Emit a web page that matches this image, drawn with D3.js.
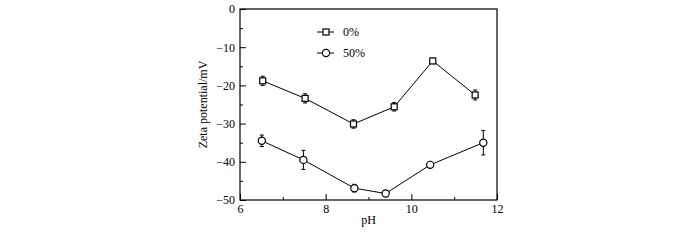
<!DOCTYPE html>
<html>
<head>
<meta charset="utf-8">
<script src="https://cdn.jsdelivr.net/npm/d3@7/dist/d3.min.js"></script>
<style>
body { margin: 0; background: #fff; }
svg text { font-family: "Liberation Serif", "Times New Roman", serif !important; }
</style>
</head>
<body>
<script>
var width = 700;
var height = 240;

// data
var ph0 = [6.53, 7.52, 8.65, 9.6, 10.5, 11.49];
var zeta0 = [-18.8, -23.4, -30.1, -25.6, -13.6, -22.5];
var err0 = [1.2, 1.2, 1.1, 1.1, 0.7, 1.3];
var ph50 = [6.51, 7.48, 8.67, 9.4, 10.44, 11.68];
var zeta50 = [-34.5, -39.5, -46.9, -48.3, -40.8, -35.0];
var err50 = [1.5, 2.5, 1.0, 0.3, 0.3, 3.2];
var xTicks = [6, 8, 10, 12];
var yTicks = [0, -10, -20, -30, -40, -50];
var seriesNames = ['0%', '50%'];

var svg = d3.select('body').append('svg').attr('width', width).attr('height', height)
    .attr('font-family', '"Liberation Serif", serif');

var plot = { left: 240, right: 497, top: 9, bottom: 200 };

var xScale = d3.scaleLinear().domain([6, 12]).range([plot.left, plot.right]);
var yScale = d3.scaleLinear().domain([-50, 0]).range([plot.bottom, plot.top]);

// frame
svg.append('rect')
    .attr('x', plot.left).attr('y', plot.top)
    .attr('width', plot.right - plot.left).attr('height', plot.bottom - plot.top)
    .attr('fill', 'none').attr('stroke', '#000').attr('stroke-width', 1.2);

var fmt = function (d) { return d < 0 ? '\u2212' + Math.abs(d) : String(d); };

// x axis, inward ticks
var xAxis = d3.axisBottom(xScale).tickValues(xTicks).tickSize(-6).tickPadding(4).tickFormat(fmt);
var gx = svg.append('g').attr('transform', 'translate(0,' + plot.bottom + ')').call(xAxis);
var xMinor = d3.axisBottom(xScale).tickValues([7, 9, 11]).tickSize(-3).tickFormat('');
var gxm = svg.append('g').attr('transform', 'translate(0,' + plot.bottom + ')').call(xMinor);

// y axis, inward ticks
var yAxis = d3.axisLeft(yScale).tickValues(yTicks).tickSize(-6).tickPadding(5).tickFormat(fmt);
var gy = svg.append('g').attr('transform', 'translate(' + plot.left + ',0)').call(yAxis);
var yMinor = d3.axisLeft(yScale).tickValues([-5, -15, -25, -35, -45]).tickSize(-3).tickFormat('');
var gym = svg.append('g').attr('transform', 'translate(' + plot.left + ',0)').call(yMinor);

[gx, gxm, gy, gym].forEach(function (g) {
    g.attr('font-family', null);
    g.select('.domain').remove();
    g.selectAll('line').attr('stroke', '#000').attr('stroke-width', 1);
    g.selectAll('text').attr('fill', '#000').style('font-size', '12px');
});

// axis titles
svg.append('text')
    .attr('x', xScale(9)).attr('y', 224)
    .attr('text-anchor', 'middle').style('font-size', '12px')
    .text('pH');
svg.append('text')
    .attr('transform', 'translate(207,' + yScale(-25) + ') rotate(-90)')
    .attr('text-anchor', 'middle').style('font-size', '12px')
    .text('Zeta potential/mV');

var line = d3.line()
    .x(function (d) { return xScale(d[0]); })
    .y(function (d) { return yScale(d[1]); });

function drawSeries(phs, zs, errs, shape) {
    var pts = phs.map(function (p, i) { return [p, zs[i], errs[i]]; });
    svg.append('path').datum(pts).attr('d', line)
        .attr('fill', 'none').attr('stroke', '#000').attr('stroke-width', 1);
    var g = svg.append('g');
    var bars = g.selectAll('g.err').data(pts).enter().append('g');
    bars.append('line')
        .attr('x1', function (d) { return xScale(d[0]); })
        .attr('x2', function (d) { return xScale(d[0]); })
        .attr('y1', function (d) { return yScale(d[1] - d[2]); })
        .attr('y2', function (d) { return yScale(d[1] + d[2]); })
        .attr('stroke', '#000');
    [-1, 1].forEach(function (s) {
        bars.append('line')
            .attr('x1', function (d) { return xScale(d[0]) - 2; })
            .attr('x2', function (d) { return xScale(d[0]) + 2; })
            .attr('y1', function (d) { return yScale(d[1] + s * d[2]); })
            .attr('y2', function (d) { return yScale(d[1] + s * d[2]); })
            .attr('stroke', '#000');
    });
    drawMarkers(g, pts, shape);
}

function drawMarkers(g, pts, shape) {
    if (shape === 'square') {
        g.selectAll('rect.m').data(pts).enter().append('rect')
            .attr('x', function (d) { return xScale(d[0]) - 3; })
            .attr('y', function (d) { return yScale(d[1]) - 3; })
            .attr('width', 6).attr('height', 6)
            .attr('fill', '#fff').attr('stroke', '#000').attr('stroke-width', 1.2);
    } else {
        g.selectAll('circle.m').data(pts).enter().append('circle')
            .attr('cx', function (d) { return xScale(d[0]); })
            .attr('cy', function (d) { return yScale(d[1]); })
            .attr('r', 3.6)
            .attr('fill', '#fff').attr('stroke', '#000').attr('stroke-width', 1.2);
    }
}

drawSeries(ph0, zeta0, err0, 'square');
drawSeries(ph50, zeta50, err50, 'circle');

// legend
var legY = [32, 53];
var shapes = ['square', 'circle'];
seriesNames.forEach(function (name, i) {
    svg.append('line').attr('x1', 317).attr('x2', 334)
        .attr('y1', legY[i]).attr('y2', legY[i]).attr('stroke', '#000');
    var lg = svg.append('g');
    if (shapes[i] === 'square') {
        lg.append('rect').attr('x', 323).attr('y', legY[i] - 3).attr('width', 6).attr('height', 6)
            .attr('fill', '#fff').attr('stroke', '#000').attr('stroke-width', 1.2);
    } else {
        lg.append('circle').attr('cx', 326).attr('cy', legY[i]).attr('r', 3.6)
            .attr('fill', '#fff').attr('stroke', '#000').attr('stroke-width', 1.2);
    }
    svg.append('text').attr('x', 343).attr('y', legY[i] + 4)
        .style('font-size', '12px').text(name);
});
</script>
</body>
</html>
